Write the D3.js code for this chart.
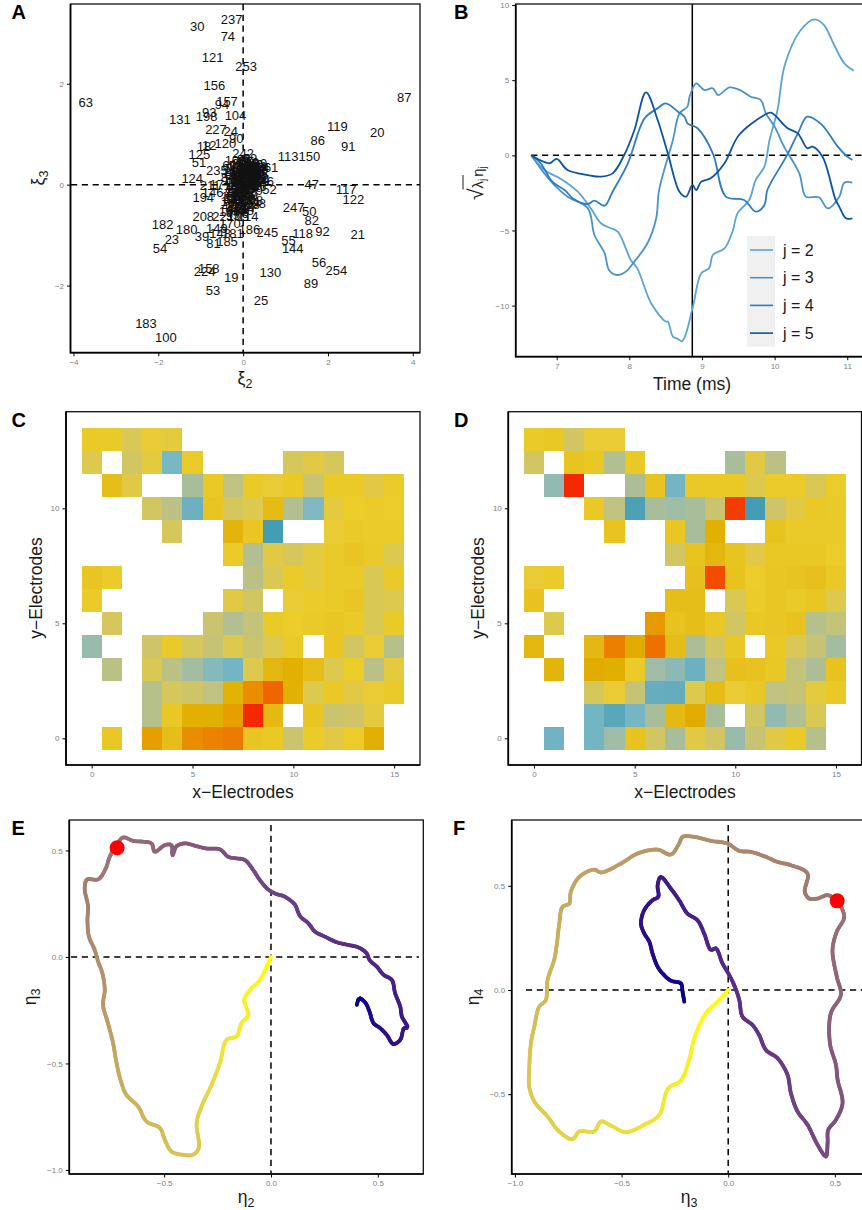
<!DOCTYPE html>
<html>
<head>
<meta charset="utf-8">
<script src="https://cdn.jsdelivr.net/npm/d3@7"></script>
<style>
  html, body { margin: 0; padding: 0; background: #fff; }
  svg { display: block; font-family: "Liberation Sans", Arial, sans-serif; }
</style>
</head>
<body>
<div id="chart"></div>
<script>
// Panel A: observation id, xi_2, xi_3
const scoresOuter = [
  [237,-.27,3.27],[30,-1.08,3.14],[74,-.36,2.94],[121,-.72,2.52],[253,.07,2.35],[156,-.68,1.97],
  [63,-3.71,1.63],[87,3.80,1.74],[157,-.38,1.66],[94,-.50,1.59],[93,-.80,1.43],[198,-.86,1.35],
  [131,-1.49,1.30],[104,-.18,1.37],[119,2.22,1.16],[20,3.16,1.04],[227,-.64,1.10],[24,-.29,1.06],
  [90,-.16,.92],[86,1.76,.88],[91,2.48,.75],[120,-.42,.82],[18,-.92,.75],[12,-.80,.78],
  [125,-1.03,.60],[113,1.06,.57],[150,1.56,.57],[242,0,.63],[51,-1.04,.44],[124,-1.20,.13],
  [235,-.62,.29],[47,1.62,.01],[117,2.43,-.09],[122,2.60,-.30],[52,.62,-.085],[61,.66,.34],
  [194,-.94,-.25],[247,1.19,-.45],[50,1.56,-.53],[82,1.62,-.71],[208,-.94,-.63],[182,-1.90,-.78],
  [180,-1.33,-.88],[186,.15,-.88],[245,.57,-.94],[118,1.40,-.96],[92,1.87,-.92],[21,2.70,-.98],
  [39,-.97,-1.02],[23,-1.68,-1.08],[54,-1.96,-1.26],[55,1.07,-1.10],[144,1.17,-1.27],[56,1.79,-1.54],
  [254,2.20,-1.70],[158,-.81,-1.65],[224,-.91,-1.72],[19,-.28,-1.83],[130,.64,-1.73],[89,1.60,-1.95],
  [53,-.71,-2.09],[25,.42,-2.30],[183,-2.29,-2.74],[100,-1.82,-3.02],[88,.37,-.37],[168,.14,-.38],
  [114,.12,-.63],[166,.47,.07],[170,-.31,-.76],[181,-.24,-.96],[149,-.62,-.86],[81,-.70,-1.16],
  [185,-.38,-1.13],[148,-.54,-.96],[221,-.47,-.63],[146,-.72,-.16],[211,-.78,-.02],[17,-.62,.01]
];
const scoresCluster = [
  [1,-.05,.30],[2,.10,.12],[3,-.12,-.05],[4,.22,.25],[5,.02,-.18],[6,-.20,.18],[7,.32,.05],[8,.08,.38],
  [9,-.08,.08],[10,.15,-.08],[11,-.02,.22],[13,.28,.32],[14,-.15,-.22],[15,.05,.02],[16,.18,.42],
  [22,-.28,.26],[26,.12,-.28],[27,-.24,-.12],[28,.36,.18],[29,-.10,.42],[31,-.30,-.28],[32,.24,-.02],
  [33,.04,.30],[34,-.18,.36],[35,.42,.30],[36,-.04,-.32],[37,.20,.10],[38,-.14,.12],[40,.30,.40],
  [41,-.34,-.42],[42,.08,-.42],[43,-.02,.46],[44,.14,.28],[45,-.26,.06],[46,.38,-.04],[48,-.08,-.48],
  [49,.26,.18],[57,-.20,-.36],[58,.02,.14],[59,.16,.52],[60,-.32,.38],[62,.10,-.14],[64,-.06,-.12],
  [65,.34,.26],[66,-.12,.26],[67,.06,.46],[68,-.22,-.50],[69,.18,-.22],[70,-.30,-.06],[71,.00,-.06],
  [72,.44,.12],[73,-.16,.02],[75,.24,.36],[76,-.04,-.56],[77,-.28,-.18],[78,.12,.06],[79,.30,-.12],
  [80,-.10,.34],[83,.06,-.30],[84,-.36,.14],[85,.20,.32],[95,-.24,-.60],[96,.02,.50],[97,.16,-.44],
  [98,-.14,-.34],[99,.40,.42],[101,-.02,.06],[102,.28,.10],[103,-.18,.48],[105,-.12,-.62],[106,.10,.22],
  [107,-.32,-.52],[108,.22,-.32],[109,.04,-.08],[110,-.06,.18],[111,.34,.36],[112,-.22,.30],[115,.14,.36],
  [116,.08,.20],[123,-.10,-.16],[126,.18,.04],[127,-.04,.10],[128,.26,.30],[129,-.16,-.08],[132,.12,.44],
  [133,.00,-.24],[134,-.22,.10],[135,.32,.22],[136,.06,-.02],[137,-.12,.38],[138,.16,.16],[139,-.06,-.26],
  [140,.22,.40],[141,-.20,-.28],[142,.04,.24],[143,.30,.12],[145,-.14,.20],[147,.10,-.20],[151,-.02,-.38],
  [152,.24,.06],[153,-.26,-.24],[154,.36,.34],[155,.02,.34],[159,-.08,-.02],[160,.14,-.02],[161,-.18,-.16],
  [162,.20,.24],[163,-.04,.40],[164,.28,.02],[165,-.12,-.42],[167,.08,.30],[169,-.24,.22],[171,.16,-.34],
  [172,.00,.18],[173,-.16,-.44],[174,.38,.10],[175,-.06,.28],[176,.24,.14],[177,.04,-.14],[178,-.10,.00],
  [179,.12,.14],[184,-.20,-.02],[187,.32,.30],[188,.00,-.50],[189,-.28,-.34],[190,.18,.34],[191,-.02,-.10]
];

// Panel B: time in ms, sqrt(lambda_j) * eta_j
const curveJ2 = [[6.65,0],[6.83,-.98],[7.06,-1.57],[7.29,-2.42],[7.47,-3.53],[7.61,-4.52],[7.72,-4.8],[7.84,-5.08],[8.02,-6.96],[8.11,-7.52],[8.30,-9.84],[8.50,-11.06],[8.53,-11.06],[8.60,-12.06],[8.66,-12.2],[8.73,-12.35],[8.87,-10.18],[8.99,-7.85],[9.10,-7.5],[9.15,-6.63],[9.31,-6.19],[9.42,-5.08],[9.49,-3.86],[9.65,-2.97],[9.74,-1.64],[9.86,-.75],[9.93,1.02],[10.04,3.02],[10.14,6.01],[10.36,8.34],[10.55,9.05],[10.68,8.67],[10.82,7.34],[10.96,6.12],[11.09,5.63]];
const curveJ3 = [[6.65,0],[6.83,-1.2],[6.99,-2.08],[7.15,-2.75],[7.43,-3.53],[7.52,-5.3],[7.66,-6.52],[7.72,-7.63],[7.82,-7.96],[7.95,-7.74],[8.07,-7.07],[8.25,-5.85],[8.37,-4.19],[8.41,-2.31],[8.60,1.02],[8.69,2.79],[8.80,3.24],[8.83,3.9],[8.92,4.79],[9.03,4.35],[9.15,4.46],[9.22,4.01],[9.38,4.52],[9.54,4.3],[9.67,3.9],[9.81,3.68],[9.88,2.79],[10.0,1.91],[10.13,.58],[10.34,-1.2],[10.43,-2.75],[10.61,-2.79],[10.73,-3.53],[10.89,-2.75],[10.96,-1.82],[11.07,-1.82]];
const curveJ4 = [[6.65,0],[6.78,-.53],[6.94,-1.75],[7.11,-2.31],[7.24,-2.93],[7.43,-3.24],[7.52,-3.02],[7.66,-3.35],[7.77,-2.42],[7.98,-.53],[8.21,2.46],[8.39,3.13],[8.50,3.46],[8.67,2.9],[8.76,2.57],[8.80,2.13],[8.94,1.8],[9.15,.13],[9.33,-2.75],[9.58,-2.97],[9.74,-3.75],[9.86,-3.3],[9.90,-2.31],[10.16,-.09],[10.32,1.46],[10.45,2.57],[10.64,2.08],[10.87,.58],[10.98,0],[11.07,-.31]];
const curveJ5 = [[6.65,0],[6.90,-.53],[7.0,-.24],[7.15,-.98],[7.43,-1.31],[7.61,-1.42],[7.77,-1.2],[7.93,.02],[8.07,1.69],[8.23,4.19],[8.39,2.35],[8.53,.13],[8.69,-2.42],[8.78,-2.75],[8.87,-1.97],[8.92,-2.31],[8.99,-1.75],[9.12,-1.53],[9.31,-.53],[9.51,1.35],[9.86,2.68],[9.95,2.84],[10.18,1.8],[10.32,1.46],[10.45,.47],[10.52,.58],[10.66,-.09],[10.84,-2.97],[10.89,-3.41],[10.98,-4.19],[11.07,-4.19]];
const curveNames = ["j = 2", "j = 3", "j = 4", "j = 5"];
const curveColors = ["#5BA4D4", "#4A92CC", "#2F7CC0", "#0B55A0"];
const markTime = 8.867;

// Panels C, D: eigenfunction level per electrode (0-100 on the Zissou scale), rows from y = 13 down to y = 0
const _ = null;
const gridC = [
  [52,52,45,49,48,_,_,_,_,_,_,_,_,_,_,_],
  [46,_,43,48,25,51,_,_,_,_,44,47,44,_,_,_],
  [_,62,47,_,_,33,53,38,52,49,53,41,52,52,47,51],
  [_,_,_,43,37,20,56,44,46,65,35,26,48,50,51,50],
  [_,_,_,_,44,_,_,70,55,2,_,_,49,52,51,51],
  [_,_,_,_,_,_,_,51,35,47,44,48,52,56,52,46],
  [56,51,_,_,_,_,_,_,37,45,51,48,52,52,45,52],
  [51,_,_,_,_,_,_,47,43,_,49,51,52,55,45,46],
  [_,44,_,_,_,_,41,35,39,52,50,52,55,52,45,52],
  [30,_,_,42,52,44,40,46,41,46,52,_,55,43,49,36],
  [_,37,_,45,37,32,27,23,46,68,74,63,46,50,37,48],
  [_,_,_,36,44,42,38,72,83,91,73,46,53,47,49,52],
  [_,_,_,36,54,74,74,79,99,66,_,56,41,42,48,_],
  [_,54,_,79,62,83,85,87,56,53,41,51,47,50,74,_]
];
const gridD = [
  [52,54,43,49,49,_,_,_,_,_,_,_,_,_,_,_],
  [43,_,57,54,35,53,_,_,_,_,33,47,37,_,_,_],
  [_,29,99,_,_,34,57,23,53,53,53,46,51,51,45,50],
  [_,_,_,53,38,6,33,31,33,41,97,2,42,47,53,52],
  [_,_,_,_,57,_,_,55,33,74,_,_,57,52,52,52],
  [_,_,_,_,_,_,_,43,57,68,57,47,54,54,54,50],
  [49,51,_,_,_,_,_,_,60,95,58,50,55,57,60,53],
  [59,_,_,_,_,_,_,62,62,_,45,51,55,52,55,46],
  [_,46,_,_,_,_,80,58,62,54,43,54,55,58,36,39],
  [68,_,_,67,86,76,89,64,34,43,54,_,53,45,40,32],
  [_,70,_,76,75,51,31,28,20,38,60,58,54,39,34,58],
  [_,_,_,44,49,40,17,16,46,64,49,54,38,40,48,53],
  [_,_,_,23,11,24,33,66,76,33,_,43,29,35,45,_],
  [_,22,_,23,31,58,43,33,47,43,30,40,47,52,36,_]
];
const gridTop = 13;

// Panel E: eta_2, eta_3 along the trajectory, in time order
const pathE = [[.402,-.225],[.414,-.194],[.441,-.214],[.461,-.256],[.480,-.311],[.511,-.334],[.542,-.366],[.573,-.409],[.605,-.389],[.623,-.334],[.639,-.331],[.613,-.280],[.605,-.233],[.581,-.170],[.566,-.108],[.527,-.084],[.495,-.045],[.461,-.014],[.448,.017],[.409,.045],[.363,.056],[.308,.069],[.253,.095],[.206,.119],[.175,.158],[.136,.192],[.113,.244],[.089,.267],[.058,.286],[.027,.295],[-.013,.317],[-.052,.361],[-.083,.408],[-.122,.455],[-.161,.463],[-.200,.470],[-.239,.505],[-.302,.509],[-.348,.520],[-.403,.533],[-.442,.520],[-.461,.478],[-.466,.525],[-.497,.525],[-.544,.494],[-.559,.533],[-.598,.541],[-.645,.545],[-.692,.561],[-.723,.525],[-.755,.470],[-.773,.416],[-.809,.364],[-.861,.364],[-.872,.322],[-.856,.236],[-.859,.173],[-.852,.095],[-.825,.033],[-.809,-.022],[-.789,-.077],[-.778,-.155],[-.786,-.225],[-.763,-.311],[-.739,-.405],[-.723,-.498],[-.700,-.592],[-.677,-.647],[-.622,-.702],[-.583,-.772],[-.520,-.803],[-.497,-.858],[-.466,-.913],[-.419,-.928],[-.364,-.928],[-.338,-.897],[-.348,-.780],[-.325,-.702],[-.278,-.600],[-.239,-.498],[-.208,-.389],[-.161,-.373],[-.138,-.311],[-.106,-.272],[-.125,-.202],[-.098,-.155],[-.052,-.108],[-.020,-.045],[0,0]];
const markE = [-.72, .5125];

// Panel F: eta_3, eta_4 along the trajectory, in time order
const pathF = [[-.206,-.056],[-.214,-.008],[-.222,.032],[-.269,.045],[-.308,.080],[-.331,.112],[-.355,.176],[-.370,.232],[-.394,.272],[-.409,.319],[-.394,.383],[-.355,.431],[-.328,.447],[-.331,.503],[-.316,.543],[-.269,.487],[-.230,.431],[-.191,.367],[-.144,.335],[-.113,.272],[-.081,.192],[-.058,.200],[-.027,.128],[.005,.072],[.031,.016],[.052,-.048],[.067,-.128],[.114,-.168],[.145,-.216],[.177,-.288],[.231,-.327],[.278,-.407],[.294,-.495],[.325,-.583],[.372,-.647],[.419,-.743],[.458,-.799],[.466,-.735],[.469,-.671],[.505,-.623],[.536,-.543],[.513,-.431],[.505,-.359],[.477,-.256],[.481,-.112],[.528,-.024],[.509,.064],[.489,.192],[.509,.280],[.544,.351],[.509,.428],[.466,.455],[.419,.439],[.380,.439],[.359,.471],[.372,.559],[.294,.599],[.231,.615],[.177,.639],[.106,.663],[.052,.668],[-.003,.703],[-.081,.716],[-.159,.735],[-.214,.735],[-.230,.703],[-.269,.650],[-.331,.674],[-.425,.655],[-.503,.607],[-.597,.564],[-.628,.578],[-.698,.543],[-.738,.471],[-.745,.415],[-.777,.399],[-.792,.319],[-.803,.224],[-.816,.144],[-.847,.048],[-.855,-.048],[-.886,-.080],[-.909,-.176],[-.925,-.256],[-.933,-.383],[-.933,-.463],[-.909,-.535],[-.847,-.607],[-.792,-.679],[-.730,-.716],[-.698,-.679],[-.628,-.679],[-.597,-.631],[-.542,-.655],[-.480,-.682],[-.394,-.647],[-.323,-.599],[-.281,-.471],[-.222,-.435],[-.183,-.335],[-.159,-.232],[-.105,-.112],[-.050,-.056],[0,0]];
const markF = [.511, .428];

const WIDTH = 862;
const HEIGHT = 1210;
const TITLE_SIZE = 17.5;
const TICK_SIZE = 8;
const DASH = "6.2,4.6";

const svg = d3.select("#chart").append("svg")
  .attr("width", WIDTH)
  .attr("height", HEIGHT)
  .attr("viewBox", `0 0 ${WIDTH} ${HEIGHT}`);

/**
 * Frame, scales and axes of one panel
 */
function makePanel (box, xDomain, yDomain, xTicks, yTicks, format) {
  const x = d3.scaleLinear().domain(xDomain).range([box.left, box.right]);
  const y = d3.scaleLinear().domain(yDomain).range([box.bottom, box.top]);
  const g = svg.append("g");
  const fmt = format ? d3.format(format) : d3.format("d");

  g.append("g").attr("class", "xAxis")
    .attr("transform", `translate(0,${box.bottom})`)
    .call(d3.axisBottom(x).tickValues(xTicks).tickFormat(fmt).tickSize(3.5).tickPadding(3));
  g.append("g").attr("class", "yAxis")
    .attr("transform", `translate(${box.left},0)`)
    .call(d3.axisLeft(y).tickValues(yTicks).tickFormat(fmt).tickSize(3.5).tickPadding(3));
  g.selectAll(".domain").remove();
  g.selectAll(".tick line").attr("stroke", "#000").attr("stroke-width", 1);
  g.selectAll(".tick text").attr("fill", "#7f7f7f").style("font-size", TICK_SIZE + "px")
    .style("font-family", "'Liberation Sans', Arial, sans-serif");

  return { x, y, g, box };
}

// border goes on last so the marks sit under it
function drawBorder (panel) {
  const b = panel.box;
  panel.g.append("rect")
    .attr("x", b.left).attr("y", b.top)
    .attr("width", b.right - b.left).attr("height", b.bottom - b.top)
    .attr("fill", "none").attr("stroke", "#111").attr("stroke-width", 1.3);
  panel.g.append("path")
    .attr("d", `M${b.left},${b.top}V${b.bottom}H${b.right}`)
    .attr("fill", "none").attr("stroke", "#000").attr("stroke-width", 1.7);
}

function dashedH (panel, value, x0, x1) {
  panel.g.append("line")
    .attr("x1", x0).attr("x2", x1)
    .attr("y1", panel.y(value)).attr("y2", panel.y(value))
    .attr("stroke", "#000").attr("stroke-width", 1.5).attr("stroke-dasharray", DASH);
}

function dashedV (panel, value, y0, y1) {
  panel.g.append("line")
    .attr("y1", y0).attr("y2", y1)
    .attr("x1", panel.x(value)).attr("x2", panel.x(value))
    .attr("stroke", "#000").attr("stroke-width", 1.5).attr("stroke-dasharray", DASH);
}

function panelLetter (letter, x, y) {
  svg.append("text").attr("x", x).attr("y", y)
    .attr("font-size", 20).attr("font-weight", "bold").attr("fill", "#000").text(letter);
}

function plainTitle (text, x, y, rotate) {
  svg.append("text")
    .attr("transform", `translate(${x},${y})` + (rotate ? " rotate(-90)" : ""))
    .attr("text-anchor", "middle")
    .attr("font-size", TITLE_SIZE).attr("fill", "#1a1a1a").text(text);
}

// greek letter with a subscript, like the plotmath axis titles
function greekTitle (letter, sub, x, y, rotate) {
  const t = svg.append("text")
    .attr("transform", `translate(${x},${y})` + (rotate ? " rotate(-90)" : ""))
    .attr("text-anchor", "middle")
    .attr("font-size", TITLE_SIZE).attr("fill", "#1a1a1a");
  t.append("tspan").text(letter);
  t.append("tspan").attr("font-size", 12.5).attr("dy", 3.5).text(sub);
}

// ---- Panel A
const panelA = makePanel({ left: 70.5, right: 420, top: 4, bottom: 352.7 },
  [-4.07, 4.17], [-3.33, 3.58], [-4, -2, 0, 2, 4], [-2, 0, 2]);
dashedH(panelA, 0, 71, 420);
dashedV(panelA, 0, 4, 352);
panelA.g.selectAll("text.score")
  .data(scoresOuter.concat(scoresCluster))
  .join("text")
  .attr("class", "score")
  .attr("x", d => panelA.x(d[1]))
  .attr("y", d => panelA.y(d[2]))
  .attr("dy", "0.36em")
  .attr("text-anchor", "middle")
  .attr("font-size", 13)
  .attr("fill", "#111")
  .text(d => d[0]);
drawBorder(panelA);

// ---- Panel B
const panelB = makePanel({ left: 515.7, right: 866, top: 4, bottom: 356.7 },
  [6.436, 11.258], [-13.4, 10.07], [7, 8, 9, 10, 11], [-10, -5, 0, 5, 10]);
dashedH(panelB, 0, panelB.x(6.65), 862);
panelB.g.append("line")
  .attr("x1", panelB.x(markTime)).attr("x2", panelB.x(markTime))
  .attr("y1", 4).attr("y2", 356.7)
  .attr("stroke", "#000").attr("stroke-width", 1.5);
const curveLine = d3.line()
  .x(d => panelB.x(d[0]))
  .y(d => panelB.y(d[1]))
  .curve(d3.curveCatmullRom.alpha(0.5));
[curveJ2, curveJ3, curveJ4, curveJ5].forEach((c, i) => {
  panelB.g.append("path").datum(c)
    .attr("d", curveLine)
    .attr("fill", "none").attr("stroke", curveColors[i]).attr("stroke-width", 1.8)
    .attr("stroke-linejoin", "round");
});
drawBorder(panelB);

const legend = svg.append("g");
legend.append("rect")
  .attr("x", 747).attr("y", 236).attr("width", 28).attr("height", 110.7).attr("fill", "#F0F0F0");
curveNames.forEach((name, i) => {
  const ly = 250 + i * 27.7;
  legend.append("line")
    .attr("x1", 750).attr("x2", 773).attr("y1", ly).attr("y2", ly)
    .attr("stroke", curveColors[i]).attr("stroke-width", 1.6);
  legend.append("text")
    .attr("x", 783).attr("y", ly).attr("dy", "0.36em")
    .attr("font-size", 16).attr("fill", "#1a1a1a").text(name);
});

// ---- Panels C and D
const zissou = d3.scaleLinear()
  .domain([0, 25, 50, 75, 100])
  .range(["#3B9AB2", "#78B7C5", "#EBCC2A", "#E1AF00", "#F21A00"])
  .interpolate(d3.interpolateLab);

function drawGrid (panel, grid) {
  const cells = grid.flatMap((row, r) =>
    row.map((v, col) => ({ col, row: gridTop - r, v })).filter(d => d.v !== null));
  panel.g.selectAll("rect.cell")
    .data(cells)
    .join("rect")
    .attr("class", "cell")
    .attr("x", d => panel.x(d.col - 0.5))
    .attr("width", d => panel.x(d.col + 0.5) - panel.x(d.col - 0.5))
    .attr("y", d => panel.y(d.row + 0.5))
    .attr("height", d => panel.y(d.row - 0.5) - panel.y(d.row + 0.5))
    .attr("fill", d => zissou(d.v))
    .attr("shape-rendering", "crispEdges");
  drawBorder(panel);
}

const panelC = makePanel({ left: 66, right: 420, top: 411.7, bottom: 765 },
  [-1.274, 16.28], [-1.16, 14.2], [0, 5, 10, 15], [0, 5, 10]);
drawGrid(panelC, gridC);
const panelD = makePanel({ left: 508.3, right: 861.5, top: 411.7, bottom: 765 },
  [-1.277, 16.27], [-1.16, 14.2], [0, 5, 10, 15], [0, 5, 10]);
drawGrid(panelD, gridD);

// ---- Panels E and F
const timeColor = d3.scaleLinear()
  .range(["#00008B", "#FFFF00"])
  .interpolate(d3.interpolateLab);

// smooth the trajectory, then colour short pieces of it by how far along it they are
function drawPath (panel, path, mark) {
  const smooth = d3.line()
    .x(d => panel.x(d[0]))
    .y(d => panel.y(d[1]))
    .curve(d3.curveCatmullRom.alpha(0.5));
  const guide = panel.g.append("path").attr("d", smooth(path)).attr("fill", "none");
  const total = guide.node().getTotalLength();
  const lengths = d3.range(0, total, 2).concat([total]);
  const samples = lengths.map(l => guide.node().getPointAtLength(l));
  guide.remove();
  timeColor.domain([0, total]);

  panel.g.selectAll("line.step")
    .data(d3.pairs(samples))
    .join("line")
    .attr("class", "step")
    .attr("x1", d => d[0].x).attr("y1", d => d[0].y)
    .attr("x2", d => d[1].x).attr("y2", d => d[1].y)
    .attr("stroke", (d, i) => timeColor(lengths[i]))
    .attr("stroke-width", 3.8)
    .attr("stroke-linecap", "round");
  panel.g.append("circle")
    .attr("cx", panel.x(mark[0])).attr("cy", panel.y(mark[1]))
    .attr("r", 7.5).attr("fill", "#FF0000");
  drawBorder(panel);
}

const panelE = makePanel({ left: 69.3, right: 423.3, top: 820, bottom: 1174 },
  [-.944, .713], [-1.019, .643], [-.5, 0, .5], [-1, -.5, 0, .5], ".1f");
dashedH(panelE, 0, 71, 419);
dashedV(panelE, 0, 825, 1173);
drawPath(panelE, pathE, markE);

const panelF = makePanel({ left: 511.7, right: 866, top: 820, bottom: 1174 },
  [-1.015, .646], [-.883, .816], [-1, -.5, 0, .5], [-.5, 0, .5], ".1f");
dashedH(panelF, 0, 526, 862);
dashedV(panelF, 0, 825, 1173);
drawPath(panelF, pathF, markF);

// ---- Titles
panelLetter("A", 11.5, 19);
panelLetter("B", 454, 18.5);
panelLetter("C", 11.5, 427);
panelLetter("D", 454, 427);
panelLetter("E", 11.5, 835);
panelLetter("F", 453, 835);

greekTitle("ξ", "2", 245, 384, false);
greekTitle("ξ", "3", 44, 178, true);
plainTitle("Time (ms)", 692, 390, false);
plainTitle("x\u2212Electrodes", 243, 798, false);
plainTitle("y\u2212Electrodes", 42, 588, true);
plainTitle("x\u2212Electrodes", 685, 798, false);
plainTitle("y\u2212Electrodes", 484, 588, true);
greekTitle("η", "2", 246, 1203, false);
greekTitle("η", "3", 36, 997, true);
greekTitle("η", "3", 689, 1203, false);
greekTitle("η", "4", 479, 997, true);

// y title of B: square root of lambda_j times eta_j
const rootTitle = svg.append("g").attr("transform", "translate(483,200) rotate(-90)");
rootTitle.append("text").attr("x", 0).attr("y", 0).attr("font-size", 21).attr("fill", "#1a1a1a").text("\u221A");
rootTitle.append("line").attr("x1", 10.5).attr("x2", 25).attr("y1", -20).attr("y2", -20)
  .attr("stroke", "#1a1a1a").attr("stroke-width", 1);
const rootBody = rootTitle.append("text").attr("x", 11.5).attr("y", 0).attr("font-size", 15).attr("fill", "#1a1a1a");
rootBody.append("tspan").text("λ");
rootBody.append("tspan").attr("font-size", 10).attr("dy", 3).text("j");
rootBody.append("tspan").attr("dy", -3).attr("dx", 2).text("η");
rootBody.append("tspan").attr("font-size", 10).attr("dy", 3).text("j");
</script>
</body>
</html>
